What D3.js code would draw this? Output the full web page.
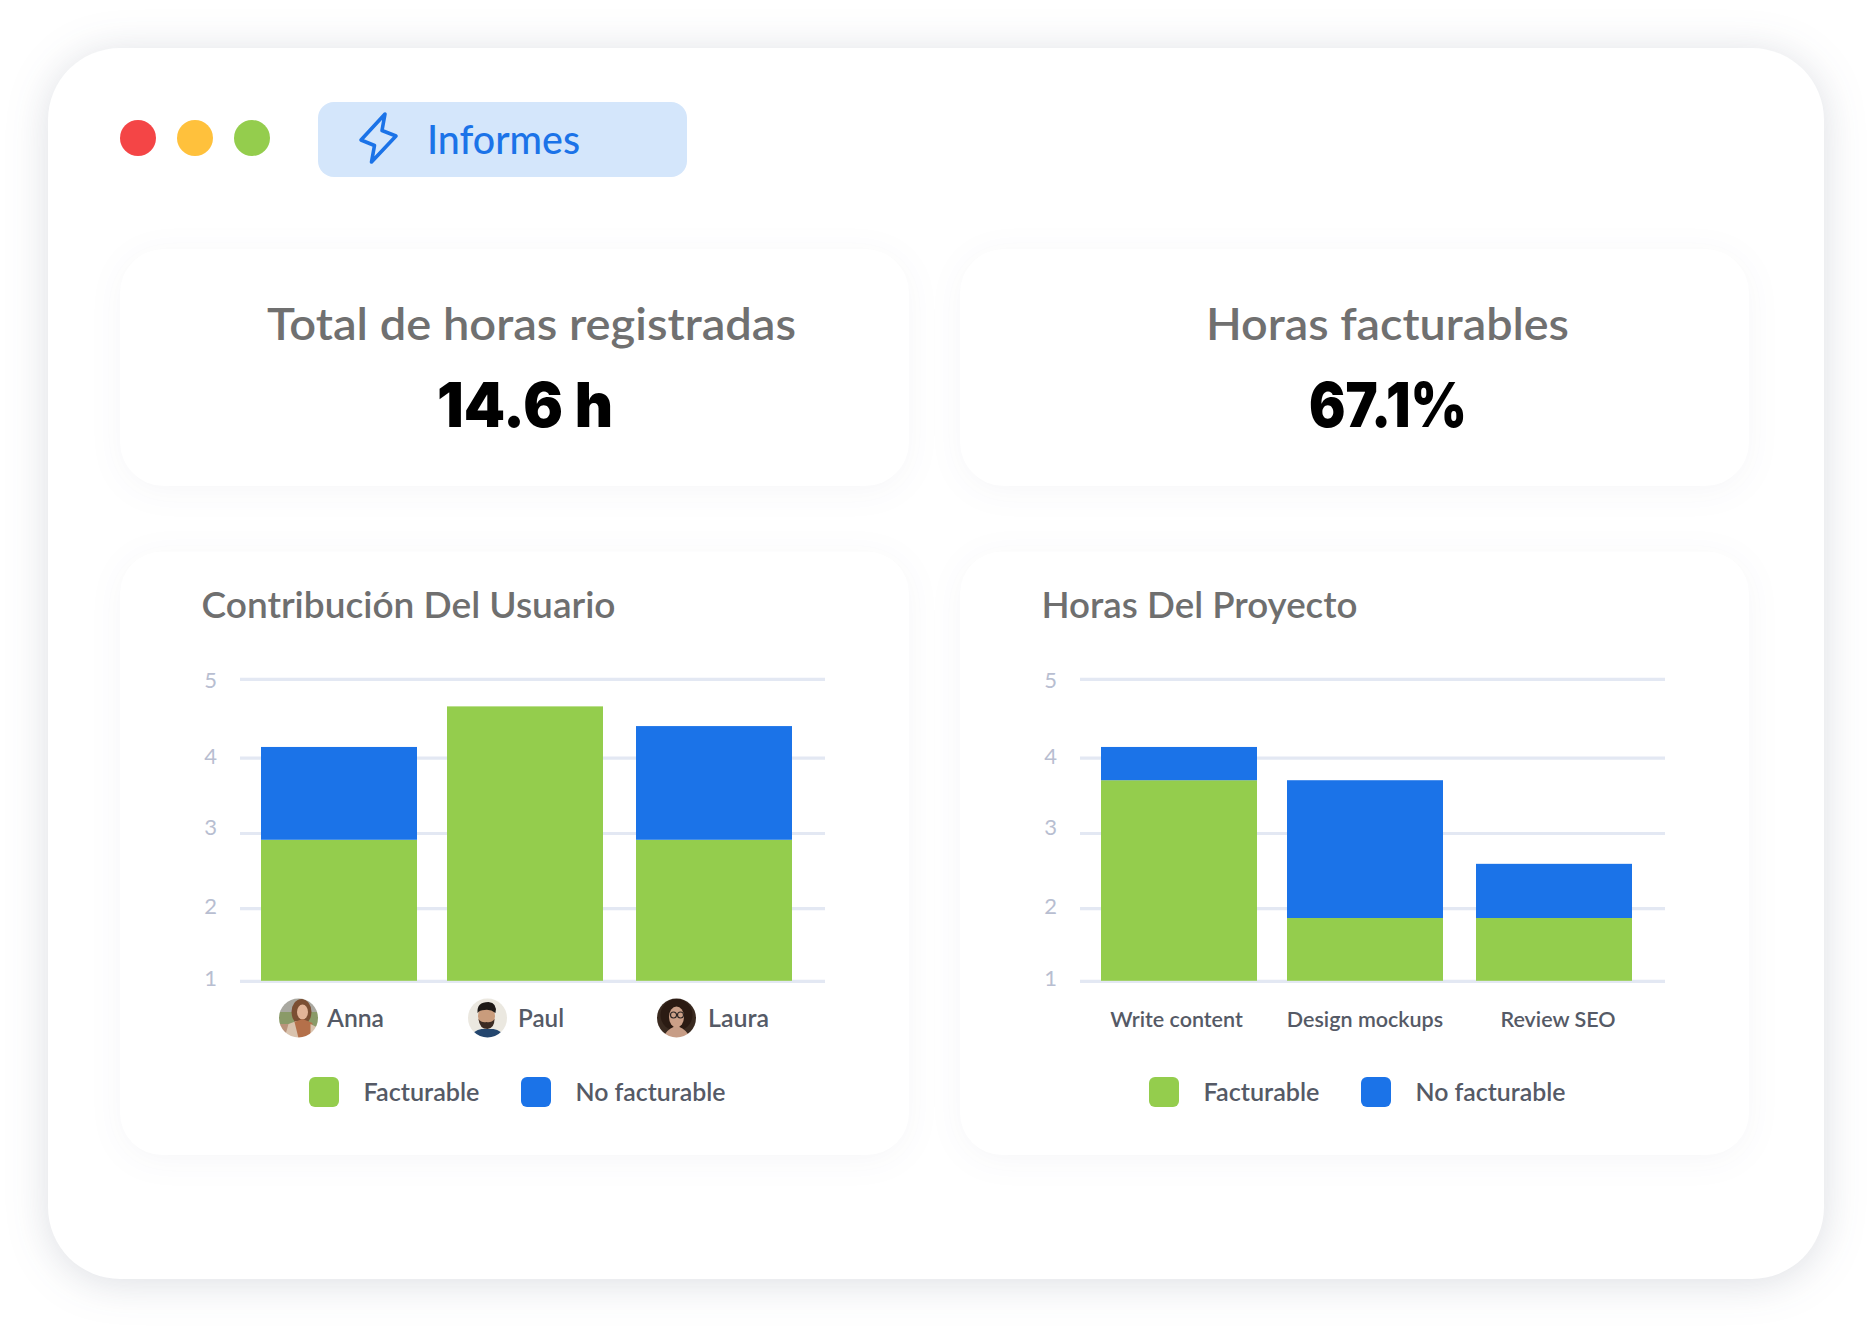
<!DOCTYPE html>
<html lang="es">

<head>
    <meta charset="UTF-8">
    <title>Informes</title>
    <script src="https://d3js.org/d3.v7.min.js"></script>
    <style>
        body { margin: 0; background: #fff; }
        svg { display: block; font-family: Lato, sans-serif; }
        .shell { filter: drop-shadow(0 4px 20px rgba(50, 60, 90, .17)); }
        .card { filter: drop-shadow(0 5px 16px rgba(40, 50, 90, .045)); }
        .grid .domain { display: none; }
        .grid line { stroke: #e3e8f3; stroke-width: 3.2; }
        .grid text { font-family: Lato, sans-serif; font-size: 22px; fill: #b8bed1; }
        .cat .domain, .cat line { display: none; }
        .cat text { font-family: Lato, sans-serif; font-size: 21.5px; font-weight: 600; fill: #555a66; }
        .face { filter: blur(.4px); }
    </style>
</head>

<body>
    <div id="chart"></div>
    <script>
        /* global d3 */

        var yTicks = [1, 2, 3, 4, 5];
        var seriesNames = ["Facturable", "No facturable"];

        var users = ["Anna", "Paul", "Laura"];
        var userBillable = [2.91, 4.65, 2.91];
        var userNonBillable = [1.225, 0, 1.49];

        var projects = ["Write content", "Design mockups", "Review SEO"];
        var projectBillable = [3.70, 1.865, 1.865];
        var projectNonBillable = [0.435, 1.835, 0.725];

        var kpiTitles = ["Total de horas registradas", "Horas facturables"];
        var kpiValues = ["14.6 h", "67.1%"];
        var chartTitles = ["Contribución Del Usuario", "Horas Del Proyecto"];
        var navLabel = "Informes";

        var GREEN = "#94cd4d", BLUE = "#1b73e8";

        var svg = d3.select("#chart").append("svg")
            .attr("width", 1872)
            .attr("height", 1344);

        // tiny stand-ins for the three portrait photos
        var avatars = [
            function (a, id) {
                var c = avatarBase(a, id, "#8a9a68");
                shape(c, "rect", { x: -20, y: -20, width: 40, height: 14, fill: "#a9a8a0" });
                shape(c, "rect", { x: -20, y: 6, width: 22, height: 14, fill: "#b9937b" });
                shape(c, "ellipse", { cx: 3, cy: -6, rx: 10, ry: 13, fill: "#7b4f33" });
                shape(c, "ellipse", { cx: 4, cy: -6, rx: 5.5, ry: 7.5, fill: "#e2b598" });
                shape(c, "path", { d: "M-14 20 L-10 6 L-2 3 L2 20 Z", fill: "#d9c3ae" });
                shape(c, "path", { d: "M-4 4 L4 1 L14 5 L12 20 L0 20 Z", fill: "#b4704a" });
                shape(c, "path", { d: "M12 6 L20 10 L20 20 L12 20 Z", fill: "#d9c3ae" });
            },
            function (a, id) {
                var c = avatarBase(a, id, "#ebe8e0");
                shape(c, "ellipse", { cx: -1, cy: -2, rx: 8.5, ry: 11, fill: "#c99c7c" });
                shape(c, "path", { d: "M-10 -5 Q-11 -16 1 -16 Q10 -15 8 -5 Q3 -9 -3 -8 Q-8 -8 -10 -5 Z", fill: "#1d1917" });
                shape(c, "path", { d: "M-9 1 Q-8 11 0 11 Q7 10 7 1 Q4 5 -1 4 Q-6 5 -9 1 Z", fill: "#3b2a22" });
                shape(c, "path", { d: "M-17 20 Q-14 12 -6 11 L6 11 Q14 12 17 20 Z", fill: "#24466e" });
            },
            function (a, id) {
                var c = avatarBase(a, id, "#3a2a20");
                shape(c, "ellipse", { cx: 0, cy: -3, rx: 16, ry: 16, fill: "#2b1b13" });
                shape(c, "ellipse", { cx: 0, cy: -1, rx: 7.5, ry: 10.5, fill: "#cba088" });
                shape(c, "path", { d: "M-14 20 Q-9 11 -3 9 L3 9 Q9 11 14 20 Z", fill: "#c79d86" });
                shape(c, "circle", { cx: -3, cy: -3, r: 3, fill: "none", stroke: "#2a2422", "stroke-width": 1.1 });
                shape(c, "circle", { cx: 4, cy: -3, r: 3, fill: "none", stroke: "#2a2422", "stroke-width": 1.1 });
            }
        ];

        function avatarBase(a, id, bg) {
            svg.append("clipPath").attr("id", id)
                .append("circle").attr("r", 19.5);
            return a.append("g")
                .attr("clip-path", "url(#" + id + ")")
                .append("g").attr("class", "face")
                .call(function (c) { c.append("circle").attr("r", 21).attr("fill", bg); });
        }

        function shape(c, tag, attrs) {
            var el = c.append(tag);
            Object.keys(attrs).forEach(function (k) { el.attr(k, attrs[k]); });
            return el;
        }

        // fixed width so the substitute font lands where the original text sits
        function label(parent, text, x, y, width, size, weight, color) {
            return parent.append("text")
                .attr("x", x).attr("y", y)
                .attr("textLength", width)
                .attr("lengthAdjust", "spacingAndGlyphs")
                .style("font-size", size + "px")
                .style("font-weight", weight)
                .attr("fill", color)
                .text(text);
        }

        function bigNumber(text, x0, x1) {
            svg.append("text")
                .attr("x", x0).attr("y", 427)
                .attr("textLength", x1 - x0)
                .attr("lengthAdjust", "spacingAndGlyphs")
                .style("font-family", "Inter, sans-serif")
                .style("font-size", "62px")
                .style("font-weight", 900)
                .attr("fill", "#000")
                .text(text);
        }

        // window frame
        svg.append("rect").attr("class", "shell")
            .attr("x", 48).attr("y", 48)
            .attr("width", 1776).attr("height", 1231)
            .attr("rx", 72)
            .attr("fill", "#fff");

        svg.selectAll(".dot")
            .data(["#f44546", "#ffc13c", "#94cd4d"])
            .join("circle")
            .attr("cx", function (d, i) { return 138 + i * 57; })
            .attr("cy", 138)
            .attr("r", 18)
            .attr("fill", function (d) { return d; });

        svg.append("rect")
            .attr("x", 318).attr("y", 102)
            .attr("width", 369).attr("height", 75)
            .attr("rx", 16)
            .attr("fill", "#d4e6fb");
        svg.append("path")
            .attr("d", "M385 114 L361 140 L374.5 145.5 L371.5 162 L396 136 L382 130.5 Z")
            .attr("fill", "none")
            .attr("stroke", BLUE)
            .attr("stroke-width", 3.6)
            .attr("stroke-linejoin", "round");
        label(svg, navLabel, 427, 153.5, 153, 40, 500, BLUE);

        // kpi cards
        [0, 1].forEach(function (i) {
            var dx = i * 840;
            svg.append("rect").attr("class", "card")
                .attr("x", 120 + dx).attr("y", 249)
                .attr("width", 789).attr("height", 237)
                .attr("rx", 44)
                .attr("fill", "#fff");
        });
        label(svg, kpiTitles[0], 267, 340, 529, 44, 600, "#707070");
        label(svg, kpiTitles[1], 1206, 340, 363, 44, 600, "#707070");
        bigNumber(kpiValues[0], 437, 613);
        bigNumber(kpiValues[1], 1309, 1467);

        function drawChart(dx, title, titleWidth, cats, billable, nonBillable) {
            var g = svg.append("g").attr("transform", "translate(" + dx + ",0)");

            g.append("rect").attr("class", "card")
                .attr("x", 120).attr("y", 551.5)
                .attr("width", 789).attr("height", 603.5)
                .attr("rx", 42)
                .attr("fill", "#fff");

            label(g, title, 201.5, 618, titleWidth, 36, 600, "#6f6f6f");

            // the source axis is not evenly spaced, so each tick gets its own stop
            var y = d3.scaleLinear()
                .domain(yTicks)
                .range([980.8, 908.2, 833, 757.6, 678.8])
                .clamp(true);

            var x = d3.scaleBand()
                .domain(cats)
                .range([261, 792])
                .paddingInner(0.168);

            var tickNudge = [-2.8, -2.5, -5.7, -2.1, 1.6];
            g.append("g").attr("class", "grid")
                .attr("transform", "translate(240,0)")
                .call(d3.axisLeft(y).tickValues(yTicks).tickSize(-585).tickPadding(23).tickFormat(d3.format("d")))
                .selectAll("text")
                .attr("dy", function (d, i) { return (7.5 + tickNudge[i]) + "px"; });

            var rows = cats.map(function (c, i) {
                return { cat: c, Facturable: billable[i], "No facturable": nonBillable[i] };
            });
            var stacked = d3.stack().keys(seriesNames)(rows);

            // middle bar sits a little left of an even band in the source
            var barNudge = [0, -1.5, 0];
            g.selectAll(".series")
                .data(stacked)
                .join("g")
                .attr("class", "series")
                .attr("fill", function (s, i) { return i === 0 ? GREEN : BLUE; })
                .selectAll("rect")
                .data(function (s) { return s; })
                .join("rect")
                .attr("x", function (d, i) { return x(d.data.cat) + barNudge[i]; })
                .attr("y", function (d) { return y(d[1]); })
                .attr("width", x.bandwidth())
                .attr("height", function (d) { return y(d[0]) - y(d[1]); });

            if (cats === users) {
                drawUserLabels(g, x, cats);
            } else {
                var labelNudge = [-2.5, -1.5, 4];
                g.append("g").attr("class", "cat")
                    .attr("transform", "translate(0,1027)")
                    .call(d3.axisBottom(x).tickSize(0).tickPadding(0))
                    .selectAll("text")
                    .attr("dy", 0)
                    .attr("dx", function (d, i) { return labelNudge[i]; });
            }

            // legend
            var swatchX = [309, 521];
            var textX = [363.5, 575.5];
            var textW = [116, 150];
            seriesNames.forEach(function (name, i) {
                g.append("rect")
                    .attr("x", swatchX[i]).attr("y", 1077)
                    .attr("width", 30).attr("height", 30)
                    .attr("rx", 6)
                    .attr("fill", i === 0 ? GREEN : BLUE);
                label(g, name, textX[i], 1101, textW[i], 24, 600, "#555a66");
            });
        }

        function drawUserLabels(g, x, names) {
            var avatarShift = [-40.5, -39, -37.5];
            var textShift = [28.5, 30.5, 31.5];
            var widths = [57, 46, 61];
            names.forEach(function (name, i) {
                var cx = x(name) + x.bandwidth() / 2 + avatarShift[i];
                var a = g.append("g").attr("transform", "translate(" + cx + ",1018)");
                avatars[i](a, "av" + i);
                label(g, name, cx + textShift[i], 1027, widths[i], 25, 600, "#555a66");
            });
        }

        drawChart(0, chartTitles[0], 414, users, userBillable, userNonBillable);
        drawChart(840, chartTitles[1], 316, projects, projectBillable, projectNonBillable);
    </script>
</body>

</html>
